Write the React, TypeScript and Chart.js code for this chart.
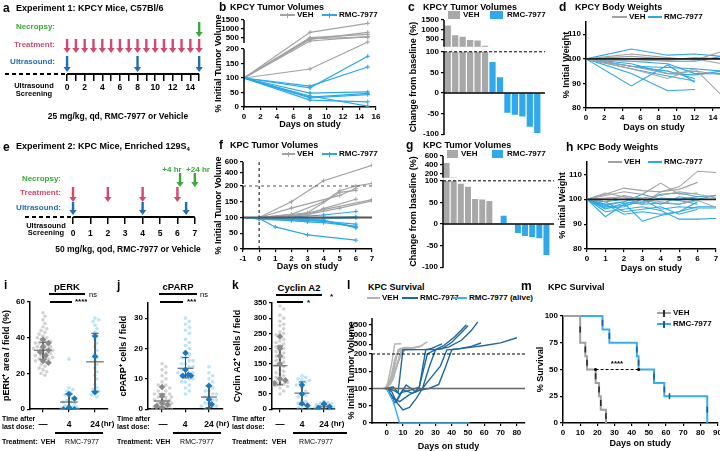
import React, { useEffect, useRef } from "react";
import { Chart, registerables, LinearScale } from "chart.js";

Chart.register(...registerables);
const FONT = "'Liberation Sans', Arial, Helvetica, sans-serif";
Chart.defaults.font.family = FONT;
Chart.defaults.font.size = 8;
(Chart.defaults.font as any).weight = "bold";
Chart.defaults.color = "#000";

// ---------------- DATA ----------------
// a: schedule experiment 1
const A_TICK_DAYS = [0, 1, 2, 3, 4, 5, 6, 7, 8, 9, 10, 11, 12, 13, 14, 15];
const A_TREAT_DAYS = [0, 1, 2, 3, 4, 5, 6, 7, 8, 9, 10, 11, 12, 13, 14, 15];
const A_US_DAYS = [0, 8, 15];
const A_NECROPSY_DAYS = [15];
// e: schedule experiment 2
const E_TICK_DAYS = [0, 1, 2, 3, 4, 5, 6, 7];
const E_TREAT_DAYS = [0, 2, 4, 6];
const E_US_DAYS = [0, 4, 6.5];
const E_NECROPSY_DAYS = [6.15, 7];

// b: KPCY tumour volumes
const B_DAYS = [0, 8, 15];
const B_VEH = [
  [100, 805, 1313],
  [100, 500, 690],
  [100, 409, 805],
  [100, 313, 558],
  [100, 450, 530],
  [100, 131, 256],
];
const B_RMC = [
  [100, 66, 175],
  [100, 72, 138],
  [100, 48, 52],
  [100, 34, 47],
  [100, 31, 43],
  [100, 24, 18],
  [100, 38, 3],
];
const B_YTICKS = [0, 50, 100, 150, 200, 500, 1000, 1500];
const B_XTICKS = [0, 2, 4, 6, 8, 10, 12, 14, 16];

// c: KPCY waterfall
const C_VEH = [1213, 705, 620, 458, 430, 156];
const C_RMC = [75, 38, -48, -53, -57, -82, -97];
const C_YTICKS = [-100, -50, 0, 50, 100, 500, 1000, 1500];

// d: KPCY body weights
const D_DAYS = [0, 5, 9, 12, 15];
const D_VEH = [
  [100, 101, 100, 100, 100],
  [100, 102, 100.5, 99.5, 103],
  [100, 96, 92, 96, 85],
  [100, 97, 94, 95, 93.5],
  [100, 99, 99.5, 100, 98],
  [100, 100, 99.5, 100.5, 100],
];
const D_RMC = [
  [100, 104, 101.5, 102, 101],
  [100, 89, 97.5, 90.5, null],
  [100, 94, 87, 87.5, null],
  [100, 96, 93, 91, null],
  [100, 97, 95, 92, null],
  [100, 98, 94, 93.5, 95],
  [100, 99, 98, 94, 94],
  [100, 100, 99, 99, 101],
  [100, 97, 96.5, 96, 95],
];
const D_XTICKS = [0, 2, 4, 6, 8, 10, 12, 14];
const W_YTICKS = [80, 90, 100, 110];

// f: KPC tumour volumes
const F_VEH = [
  [[-1, 100], [0, 100], [2, 150], [4, 260], [7, 540]],
  [[-1, 100], [0, 100], [2, 110], [4, 150], [5, 185], [6, 200], [7, 210]],
  [[-1, 100], [0, 100], [2, 130], [5, 170], [6, 193]],
  [[-1, 100], [0, 100], [3, 115], [5, 180], [6, 186]],
  [[-1, 100], [0, 100], [3, 108], [4, 128], [6, 158]],
  [[-1, 100], [0, 100], [2, 104], [4, 125], [7, 157]],
  [[-1, 100], [0, 100], [3, 110], [5, 130], [7, 153]],
];
const F_RMC = [
  [[-1, 100], [0, 97], [1, 70], [3, 45], [6, 28]],
  [[-1, 100], [0, 100], [2, 102], [4, 108], [6, 119]],
  [[-1, 100], [0, 98], [2, 98], [4, 99], [6, 102]],
  [[-1, 100], [0, 99], [2, 96], [4, 96], [6, 99]],
  [[-1, 100], [0, 96], [2, 92], [4, 88], [6, 79]],
  [[-1, 100], [0, 95], [2, 90], [3, 86], [4, 84], [6, 72]],
  [[-1, 100], [0, 97], [2, 94], [4, 90], [6, 70]],
  [[-1, 100], [0, 98], [3, 93], [4, 92], [6, 67]],
];
const F_YTICKS = [0, 50, 100, 150, 200, 400, 600];
const F_XTICKS = [-1, 0, 1, 2, 3, 4, 5, 6, 7];

// g: KPC waterfall
const G_VEH = [440, 110, 93, 86, 58, 57, 53];
const G_RMC = [2, 19, -1, -21, -28, -30, -33, -72];
const G_YTICKS = [-100, -50, 0, 50, 100, 200, 400, 600];

// h: KPC body weights
const H_DAYS = [0, 1, 2, 3, 4, 5, 6, 7];
const H_VEH = [
  [100, 102, 104.5, 103.5, 103, 105, 111.3, 110.8],
  [100, 101.5, 103, 102, 106.5, 102, 102.5, null],
  [100, 100.5, 101, 98, 103, 104, 106.8, null],
  [100, 99, 101.5, 100, 99, 98, 99.5, 96.8],
  [100, 102.5, 101, 100.5, 101.5, 103, 102, 100.5],
];
const H_RMC = [
  [100, 93, 98, 100, 98, 101, 100, 101.5],
  [100, 96, 98.5, 91.2, 93.5, 95, 97, 97],
  [100, 98, 99, 102, 100, 99.5, 98, null],
  [100, 97, 97.5, 99, 102, 102.5, 101, 101.5],
  [100, 95, 96, 97, 95.5, 92, 92, 92.3],
  [100, 99, 95, 96, 97, 94, 96, null],
  [100, 97.5, 99, 98, 98.5, 98, 100, null],
  [100, 96.5, 97, 100, 96, 97, 96.5, 96.5],
  [100, 98, 94, 95, 94, 95, 99, null],
  [100, 99, 100, 98.5, 100.5, 100, 101, null],
];
const H_XTICKS = [0, 1, 2, 3, 4, 5, 6, 7];

// i: pERK (VEH, 4 h, 24 h)
const I_VEH_FIELDS = [54, 52, 50, 48, 46, 45, 44, 43, 42, 41, 40, 40, 39, 38, 38, 37, 37, 36, 36, 35, 35, 34, 34, 34, 33, 33, 32, 32, 31, 31, 30, 30, 29, 29, 28, 28, 27, 27, 26, 25, 24, 23, 22, 21, 20, 19];
const I_4H_FIELDS = [28, 12, 11, 10, 9, 8, 7, 6, 5, 4, 4, 3, 2, 2, 1, 1, 0.5, 0, 0, 0];
const I_24H_FIELDS = [51, 50, 49, 47, 45, 43, 41, 39, 37, 35, 33, 31, 29, 27, 25, 23, 21, 19, 17, 14, 12, 11, 10, 9, 8, 7];
const I_VEH_MICE = [39, 37, 35, 33, 32, 30, 27, 26];
const I_4H_MICE = [8.5, 6, 1, 0, 0];
const I_24H_MICE = [41, 29.5, 9.5];
const I_MEAN = [33, 4, 26.5];
const I_LO = [28, 0, 10];
const I_HI = [37.5, 8.5, 42.5];
const I_YTICKS = [0, 20, 40, 60];

// j: cPARP
const J_VEH_FIELDS = [15, 14, 13, 12, 11, 10, 9, 8, 8, 7, 7, 6, 6, 5, 5, 5, 4, 4, 4, 3, 3, 3, 3, 2, 2, 2, 2, 1, 1, 1, 1, 1, 0.5, 0.5, 0, 0, 0, 0];
const J_4H_FIELDS = [30, 29, 28, 27, 26, 25, 23, 22, 21, 20, 19, 18, 17, 17, 16, 16, 15, 15, 14, 14, 13, 13, 12, 12, 12, 11, 11, 10, 10, 9, 9, 8, 7, 6, 5];
const J_24H_FIELDS = [14, 12, 11, 10, 9, 8, 7, 6, 6, 5, 5, 4, 4, 3, 3, 2, 2, 1, 1, 1, 0.5, 0];
const J_VEH_MICE = [7.3, 4.3, 2, 1.5, 1, 0.5];
const J_4H_MICE = [18.5, 13, 11.3, 11, 11];
const J_24H_MICE = [7.7, 3.2, 1.6];
const J_MEAN = [2.7, 13.5, 4];
const J_LO = [0.5, 10.3, 0.5];
const J_HI = [5, 17, 7.7];
const J_YTICKS = [0, 10, 20, 30];

// k: Cyclin A2
const K_VEH_FIELDS = [340, 330, 310, 300, 290, 280, 275, 265, 255, 250, 245, 240, 230, 225, 220, 215, 210, 205, 200, 195, 190, 185, 180, 175, 170, 165, 160, 155, 150, 145, 140, 130, 125, 120, 115, 110, 105, 100, 95, 90, 88, 85, 82, 80, 78, 75, 70, 60, 50];
const K_4H_FIELDS = [110, 105, 100, 97, 95, 90, 85, 80, 70, 60, 50, 45, 40, 30, 25, 20, 15, 10, 5, 3, 0];
const K_24H_FIELDS = [25, 22, 20, 18, 15, 13, 10, 8, 6, 4, 2, 0];
const K_VEH_MICE = [240, 200, 175, 150, 100, 95, 85];
const K_4H_MICE = [80, 50, 19, 12];
const K_24H_MICE = [18, 8, 4];
const K_MEAN = [143, 53, 10];
const K_LO = [80, 15, 3];
const K_HI = [208, 90, 16];
const K_YTICKS = [0, 50, 100, 150, 200, 250, 300, 350];

// l: KPC survival tumour volume traces
const L_VEH = [
  [[-2, 100], [0, 100], [3, 170], [5, 510], [9, 520]],
  [[-2, 100], [0, 105], [4, 140], [7, 215], [10, 250]],
  [[-1, 100], [2, 120], [5, 185], [8, 270], [12, 300]],
  [[-1, 100], [3, 135], [6, 200], [10, 320], [14, 330]],
  [[0, 100], [4, 128], [8, 195], [12, 255], [18, 330], [21, 390]],
  [[0, 100], [5, 150], [10, 230], [15, 300], [20, 360], [25, 620]],
  [[0, 100], [3, 118], [7, 175], [10, 225], [13, 280]],
  [[0, 100], [4, 132], [9, 210], [16, 305], [22, 430]],
];
const L_RMC = [
  [[0, 100], [3, 80], [7, 55], [10, 38], [14, 45], [18, 70], [22, 100], [26, 160], [30, 210], [38, 350], [46, 700], [52, 1200], [56, 1650]],
  [[0, 100], [4, 95], [7, 87], [10, 215], [20, 218], [30, 222], [34, 260], [40, 600], [46, 1100], [50, 1450]],
  [[0, 100], [4, 72], [8, 62], [14, 82], [20, 95], [26, 100], [32, 112], [36, 160], [40, 215], [50, 320], [60, 430], [70, 570], [80, 830]],
  [[0, 100], [5, 58], [9, 88], [15, 96], [20, 104], [25, 200], [30, 225], [35, 420], [42, 900], [49, 1500]],
  [[0, 100], [4, 105], [8, 82], [12, 110], [18, 90], [22, 100], [27, 130], [33, 165], [37, 210], [44, 260], [52, 390], [58, 560]],
  [[-1, 100], [3, 92], [6, 62], [10, 96], [16, 86], [20, 102], [24, 212], [28, 300], [34, 520]],
];
const L_ALIVE = [[[0, 100], [4, 62], [8, 0], [51, 0]]];
const L_YTICKS = [0, 50, 100, 150, 200, 500, 1000, 1500];
const L_XTICKS = [0, 10, 20, 30, 40, 50, 60, 70, 80];

// m: Kaplan-Meier
const M_VEH = [[0, 100], [10, 75], [13, 62.5], [14, 50], [19, 37.5], [21, 25], [22, 12.5], [25, 0]];
const M_RMC = [[0, 100], [23, 87.5], [27, 75], [43, 62.5], [44, 50], [53, 37.5], [59, 25], [84, 0]];
const M_RMC_CENSOR = [[62, 25]];
const M_MEDIAN_SPAN = [19, 44];
const M_YTICKS = [0, 25, 50, 75, 100];
const M_XTICKS = [0, 10, 20, 30, 40, 50, 60, 70, 80, 90];

// ---------------- STYLE ----------------
const GRAY_LINE = "#a2a2a2";
const BLUE_LINE = "#2aa8e8";
const GRAY_BAR = "#a8a8a8";
const BLUE_BAR = "#2fa9ec";
const DARK_BLUE = "#1d68a3";
const LIGHT_BLUE = "#3cb2f0";
const GREEN = "#38a93a";
const PINK = "#d4476e";
const BLUE_S = "#1f6db2";
const TICK_FONT = { size: 8, weight: "bold" as const };
const TITLE_FONT = { size: 9, weight: "bold" as const };

// ---------------- SCALE: broken axis ----------------
class BrokenScale extends (LinearScale as any) {
  static id = "broken";
  static defaults = (LinearScale as any).defaults;
  segDec(v: number) {
    const segs = (this as any).options.segs;
    for (let i = 0; i < segs.length; i++) {
      const s = segs[i];
      if (v <= s.v1 || i === segs.length - 1) {
        if (i > 0 && v < s.v0) {
          const p = segs[i - 1];
          return p.d1 + ((v - p.v1) / (s.v0 - p.v1)) * (s.d0 - p.d1);
        }
        return s.d0 + ((v - s.v0) / (s.v1 - s.v0)) * (s.d1 - s.d0);
      }
    }
    return 0;
  }
  getPixelForValue(v: any) {
    if (v === null || v === undefined || isNaN(v)) return NaN;
    return (this as any).getPixelForDecimal(this.segDec(v));
  }
  getValueForPixel(p: number) {
    const d = (this as any).getDecimalForPixel(p);
    const segs = (this as any).options.segs;
    for (const s of segs) {
      if (d <= s.d1) return s.v0 + ((d - s.d0) / (s.d1 - s.d0)) * (s.v1 - s.v0);
    }
    return segs[segs.length - 1].v1;
  }
  buildTicks() {
    return (this as any).options.tickVals.map((v: number) => ({ value: v }));
  }
}
Chart.register(BrokenScale as any);

const brokenAxisPlugin = {
  id: "brokenAxisLine",
  afterDraw(chart: any) {
    const y = chart.scales.y;
    if (!y || y.type !== "broken") return;
    const ctx = chart.ctx;
    const segs = y.options.segs;
    const x = y.right;
    ctx.save();
    ctx.strokeStyle = "#000";
    ctx.lineWidth = 1.5;
    for (const s of segs) {
      const p0 = y.getPixelForDecimal(s.d0);
      const p1 = y.getPixelForDecimal(s.d1);
      ctx.beginPath();
      ctx.moveTo(x, p0 + (s.d0 === 0 ? 0.75 : 0));
      ctx.lineTo(x, p1);
      ctx.stroke();
    }
    ctx.restore();
  },
};
Chart.register(brokenAxisPlugin as any);

// ---------------- HELPERS ----------------
type Box = [number, number, number, number];
type Spec = { box: Box; m: [number, number, number, number]; yW: number; xH: number; make: () => any };

function segsFromPx(box: Box, list: number[][]) {
  const t = box[1];
  const b = box[3];
  const H = b - t;
  return list.map(([v0, v1, p0, p1]) => ({ v0, v1, d0: (b - p0) / H, d1: (b - p1) / H }));
}

function linAxis(o: { min: number; max: number; ticks: number[]; title?: string; labels?: boolean; pad?: number; tl?: number }) {
  return {
    type: "linear",
    min: o.min,
    max: o.max,
    afterBuildTicks: (s: any) => {
      s.ticks = o.ticks.map((v) => ({ value: v }));
    },
    ticks: { autoSkip: false, maxRotation: 0, display: o.labels !== false, font: TICK_FONT, color: "#000", padding: o.pad ?? 2, callback: (v: any) => String(v) },
    grid: { drawOnChartArea: false, drawTicks: true, tickLength: o.tl ?? 3, color: "#000", lineWidth: 1.2 },
    border: { display: true, color: "#000", width: 1.5 },
    title: o.title ? { display: true, text: o.title, font: TITLE_FONT, color: "#000", padding: 0 } : { display: false },
  };
}

function brokenAxis(box: Box, list: number[][], ticks: number[], title: string) {
  return {
    type: "broken",
    min: list[0][0],
    max: list[list.length - 1][1],
    segs: segsFromPx(box, list),
    tickVals: ticks,
    ticks: { autoSkip: false, font: TICK_FONT, color: "#000", padding: 2, callback: (v: any) => String(v) },
    grid: { drawOnChartArea: false, drawTicks: true, tickLength: 3, color: "#000", lineWidth: 1.2 },
    border: { display: false },
    title: { display: true, text: title, font: TITLE_FONT, color: "#000", padding: 0 },
  };
}

function baseOpts(scales: any) {
  return {
    animation: false,
    responsive: false,
    maintainAspectRatio: false,
    events: [],
    plugins: { legend: { display: false }, tooltip: { enabled: false }, title: { display: false } },
    scales,
  };
}

const byDay = (days: number[], vals: (number | null)[]) => days.map((d, i) => ({ x: d, y: vals[i] }));
const fromPairs = (arr: number[][]) => arr.map(([x, y]) => ({ x, y }));

function lineDs(data: any[], color: string, o: any = {}) {
  return { data, showLine: true, borderColor: color, backgroundColor: color, borderWidth: 1.2, pointRadius: 0, spanGaps: false, ...o };
}
const crossPts = { pointStyle: "cross", pointRadius: 2.2, pointBorderWidth: 1 };

type RL = { y?: number; x?: number; from?: number; to?: number; color: string; width: number; dash?: number[]; ext?: number };
function refLines(lines: RL[], band = false) {
  return {
    id: "refLines",
    afterDatasetsDraw(chart: any) {
      const { ctx, chartArea: a, scales } = chart;
      const xs = scales.x;
      const ys = scales.y;
      ctx.save();
      if (band && ys.type === "broken") {
        const sg = ys.options.segs;
        ctx.fillStyle = "#fff";
        for (let i = 1; i < sg.length; i++) {
          const pLow = ys.getPixelForDecimal(sg[i - 1].d1);
          const pHigh = ys.getPixelForDecimal(sg[i].d0);
          ctx.fillRect(a.left + 1, pHigh, a.right - a.left + 12, pLow - pHigh);
        }
      }
      for (const L of lines) {
        ctx.beginPath();
        ctx.strokeStyle = L.color;
        ctx.lineWidth = L.width;
        ctx.setLineDash(L.dash || []);
        if (L.y !== undefined) {
          const py = ys.getPixelForValue(L.y);
          const x0 = L.from !== undefined ? xs.getPixelForValue(L.from) : a.left;
          const x1 = L.to !== undefined ? xs.getPixelForValue(L.to) : a.right + (L.ext || 0);
          ctx.moveTo(x0, py);
          ctx.lineTo(x1, py);
        } else if (L.x !== undefined) {
          const px = xs.getPixelForValue(L.x);
          ctx.moveTo(px, a.top);
          ctx.lineTo(px, a.bottom);
        }
        ctx.stroke();
      }
      ctx.restore();
    },
  };
}

type Arrow = { x: number; top: number; bot: number; color: string };
function arrowsPlugin(arrows: Arrow[]) {
  return {
    id: "arrows",
    afterDatasetsDraw(chart: any) {
      const { ctx, scales } = chart;
      const xs = scales.x;
      const ys = scales.y;
      ctx.save();
      for (const a of arrows) {
        const px = xs.getPixelForValue(a.x);
        const top = ys.getPixelForValue(a.top);
        const bot = ys.getPixelForValue(a.bot);
        const hh = 5;
        const hw = 3.6;
        ctx.strokeStyle = a.color;
        ctx.fillStyle = a.color;
        ctx.lineWidth = 2.4;
        ctx.beginPath();
        ctx.moveTo(px, top);
        ctx.lineTo(px, bot - hh + 1);
        ctx.stroke();
        ctx.beginPath();
        ctx.moveTo(px - hw, bot - hh);
        ctx.lineTo(px + hw, bot - hh);
        ctx.lineTo(px, bot);
        ctx.closePath();
        ctx.fill();
      }
      ctx.restore();
    },
  };
}

// beeswarm layout (deterministic): positions only, values come from the data arrays
function swarm(values: number[], cx: number, pxX: number, pxY: number, diam: number, maxOffPx: number) {
  const sorted = [...values].sort((a, b) => b - a);
  const placed: { x: number; y: number }[] = [];
  const out: { x: number; y: number }[] = [];
  for (const v of sorted) {
    const py = v * pxY;
    let off = 0;
    let bestD = -1;
    for (let n = 0; n < 80; n++) {
      const cand = n === 0 ? 0 : (n % 2 ? 1 : -1) * Math.ceil(n / 2) * diam * 0.5;
      if (Math.abs(cand) > maxOffPx) break;
      const minD = placed.reduce((m, p) => Math.min(m, Math.hypot(p.x - cand, p.y - py)), Infinity);
      if (minD >= diam) {
        off = cand;
        bestD = Infinity;
        break;
      }
      if (minD > bestD) {
        bestD = minD;
        off = cand;
      }
    }
    placed.push({ x: off, y: py });
    out.push({ x: cx + off / pxX, y: v });
  }
  return out;
}

function statPts(mean: number[], lo: number[], hi: number[], w: number, cap: number) {
  const pts: any[] = [];
  mean.forEach((m, i) => {
    pts.push({ x: i - w, y: m }, { x: i + w, y: m }, { x: i, y: null });
    pts.push({ x: i, y: hi[i] }, { x: i, y: lo[i] }, { x: i, y: null });
    pts.push({ x: i - cap, y: hi[i] }, { x: i + cap, y: hi[i] }, { x: i, y: null });
    pts.push({ x: i - cap, y: lo[i] }, { x: i + cap, y: lo[i] }, { x: i, y: null });
  });
  return pts;
}

// ---------------- SPECS ----------------
function schematicSpec(box: Box, xmin: number, xmax: number, ymax: number, tickDays: number[], labelFn: (v: number) => string, tl: number, pad: number, xH: number, arrows: Arrow[]): Spec {
  return {
    box,
    m: [0, 2, 10, xH],
    yW: 0,
    xH,
    make: () => ({
      type: "scatter",
      data: {
        datasets: [
          lineDs([{ x: tickDays[0], y: 0 }, { x: tickDays[tickDays.length - 1], y: 0 }], "#000", { borderWidth: 2, clip: false }),
          lineDs([{ x: xmin, y: 0 }, { x: tickDays[0], y: 0 }], "#000", { borderWidth: 2, borderDash: [4, 3], clip: false }),
        ],
      },
      options: baseOpts({
        x: {
          type: "linear",
          min: xmin,
          max: xmax,
          afterBuildTicks: (s: any) => {
            s.ticks = tickDays.map((v) => ({ value: v }));
          },
          ticks: { autoSkip: false, maxRotation: 0, font: { size: 8.5, weight: "bold" }, color: "#000", padding: pad, callback: (v: any) => labelFn(v) },
          grid: { drawOnChartArea: false, drawTicks: true, tickLength: tl, color: "#000", lineWidth: 1.5 },
          border: { display: false },
        },
        y: { display: false, min: 0, max: ymax },
      }),
      plugins: [arrowsPlugin(arrows)],
    }),
  };
}

const specA = schematicSpec(
  [5, 14, 204, 74], -7.05, 15.55, 60, A_TICK_DAYS,
  (v) => (v % 2 === 0 && v <= 14 ? String(v) : ""), 7, 2, 20,
  [
    ...A_NECROPSY_DAYS.map((d) => ({ x: d, top: 52, bot: 37, color: GREEN })),
    ...A_TREAT_DAYS.map((d) => ({ x: d, top: 35, bot: 21, color: PINK })),
    ...A_US_DAYS.map((d) => ({ x: d, top: 18, bot: 2, color: BLUE_S })),
  ]
);

const specE = schematicSpec(
  [25, 170, 199, 217], -2.76, 7.24, 47, E_TICK_DAYS,
  (v) => String(v), 7, 5, 24,
  [
    ...E_NECROPSY_DAYS.map((d) => ({ x: d, top: 44, bot: 30, color: GREEN })),
    ...E_TREAT_DAYS.map((d) => ({ x: d, top: 30, bot: 15, color: PINK })),
    ...E_US_DAYS.map((d) => ({ x: d, top: 15, bot: 2, color: BLUE_S })),
  ]
);

const boxB: Box = [244, 20, 376, 107];
const specB: Spec = {
  box: boxB, m: [31, 10, 12, 24], yW: 31, xH: 23,
  make: () => ({
    type: "scatter",
    data: {
      datasets: [
        ...B_RMC.map((v) => lineDs(byDay(B_DAYS, v), BLUE_LINE, crossPts)),
        ...B_VEH.map((v) => lineDs(byDay(B_DAYS, v), GRAY_LINE, crossPts)),
      ],
    },
    options: baseOpts({
      x: linAxis({ min: 0, max: 16, ticks: B_XTICKS, title: "Days on study" }),
      y: brokenAxis(boxB, [[0, 200, 107, 49], [200, 1500, 43, 20]], B_YTICKS, "% Initial Tumor Volume"),
    }),
  }),
};

function waterfallSpec(box: Box, yW: number, segList: number[][], ticks: number[], veh: number[], rmc: number[]): Spec {
  return {
    box, m: [yW, 10, 10, 6], yW, xH: 0,
    make: () => ({
      type: "bar",
      data: {
        labels: [...veh, ...rmc].map((_, i) => String(i)),
        datasets: [
          {
            data: [...veh, ...rmc],
            backgroundColor: [...veh.map(() => GRAY_BAR), ...rmc.map(() => BLUE_BAR)],
            borderWidth: 0,
            barPercentage: 0.84,
            categoryPercentage: 1,
          },
        ],
      },
      options: baseOpts({
        x: { display: false },
        y: brokenAxis(box, segList, ticks, "Change from baseline (%)"),
      }),
      plugins: [
        refLines(
          [
            { y: 0, color: "#000", width: 1.5, ext: 4 },
            { y: 100, color: "#000", width: 1, dash: [3, 2], ext: 4 },
          ],
          true
        ),
      ],
    }),
  };
}
const boxC: Box = [444, 20, 541, 135];
const specC = waterfallSpec(boxC, 36, [[-100, 100, 135, 52], [100, 1500, 47, 20]], C_YTICKS, C_VEH, C_RMC);
const boxG: Box = [443, 156, 550, 268];
const specG = waterfallSpec(boxG, 35, [[-100, 100, 268, 181], [100, 600, 178, 156]], G_YTICKS, G_VEH, G_RMC);

function weightSpec(box: Box, yW: number, days: number[], veh: (number | null)[][], rmc: (number | null)[][], xmax: number, xticks: number[]): Spec {
  return {
    box, m: [yW, 10, 10, 26], yW, xH: 25,
    make: () => ({
      type: "scatter",
      data: {
        datasets: [
          ...veh.map((v) => lineDs(byDay(days, v), GRAY_LINE, { borderWidth: 1.1 })),
          ...rmc.map((v) => lineDs(byDay(days, v), BLUE_LINE, { borderWidth: 1.1 })),
        ],
      },
      options: baseOpts({
        x: linAxis({ min: 0, max: xmax, ticks: xticks, title: "Days on study" }),
        y: linAxis({ min: 80, max: 115, ticks: W_YTICKS, title: "% Initial Weight" }),
      }),
      plugins: [refLines([{ y: 100, color: "#222", width: 1.8 }])],
    }),
  };
}
const specD = weightSpec([586, 22, 722, 108], 25, D_DAYS, D_VEH, D_RMC, 15, D_XTICKS);
const specH = weightSpec([587, 162, 716, 249], 30, H_DAYS, H_VEH, H_RMC, 7, H_XTICKS);

const boxF: Box = [243, 162, 372, 249];
const specF: Spec = {
  box: boxF, m: [30, 8, 12, 24], yW: 30, xH: 23,
  make: () => ({
    type: "scatter",
    data: {
      datasets: [
        ...F_VEH.map((v) => lineDs(fromPairs(v), GRAY_LINE, crossPts)),
        ...F_RMC.map((v) => lineDs(fromPairs(v), BLUE_LINE, crossPts)),
      ],
    },
    options: baseOpts({
      x: linAxis({ min: -1, max: 7, ticks: F_XTICKS, title: "Days on study" }),
      y: brokenAxis(boxF, [[0, 200, 249, 186], [200, 600, 184, 162]], F_YTICKS, "% Initial Tumor Volume"),
    }),
    plugins: [
      refLines([
        { x: 0, color: "#000", width: 1, dash: [3, 3] },
        { y: 200, color: "#555", width: 1, dash: [3, 3] },
        { y: 100, color: "#555", width: 2 },
      ]),
    ],
  }),
};

function dotSpec(box: Box, yW: number, xmin: number, xmax: number, ymax: number, yticks: number[], title: string,
  vehF: number[], h4F: number[], h24F: number[], vehM: number[], h4M: number[], h24M: number[],
  mean: number[], lo: number[], hi: number[]): Spec {
  const pxX = (box[2] - box[0]) / (xmax - xmin);
  const pxY = (box[3] - box[1]) / ymax;
  const D = 3.8;
  const MO = 10;
  return {
    box, m: [yW, 8, 6, 4], yW, xH: 4,
    make: () => ({
      type: "scatter",
      data: {
        datasets: [
          { data: swarm(vehM, 0, pxX, pxY, 5.5, 8), pointStyle: "rectRot", pointRadius: 3.3, backgroundColor: "#8a8a8a", borderWidth: 0 },
          { data: [...swarm(h4M, 1, pxX, pxY, 5.5, 8), ...swarm(h24M, 2, pxX, pxY, 5.5, 8)], pointStyle: "rectRot", pointRadius: 3.3, backgroundColor: "#1a78be", borderWidth: 0 },
          lineDs(statPts(mean, lo, hi, 0.34, 0.14), "#4a4a4a", { borderWidth: 1, clip: false }),
          { data: swarm(vehF, 0, pxX, pxY, D, MO), pointRadius: 1.8, backgroundColor: "rgba(165,165,165,0.5)", borderWidth: 0 },
          { data: [...swarm(h4F, 1, pxX, pxY, D, MO), ...swarm(h24F, 2, pxX, pxY, D, MO)], pointRadius: 1.8, backgroundColor: "rgba(120,200,240,0.5)", borderWidth: 0 },
        ],
      },
      options: baseOpts({
        x: linAxis({ min: xmin, max: xmax, ticks: [0, 1, 2], labels: false }),
        y: linAxis({ min: 0, max: ymax, ticks: yticks, title }),
      }),
    }),
  };
}
const specI = dotSpec([30, 302, 108, 412], 29, -0.5, 2.5, 60, I_YTICKS, "pERK⁺ area / field (%)",
  I_VEH_FIELDS, I_4H_FIELDS, I_24H_FIELDS, I_VEH_MICE, I_4H_MICE, I_24H_MICE, I_MEAN, I_LO, I_HI);
const specJ = dotSpec([148, 303, 223, 412], 30, -0.6, 2.6, 35, J_YTICKS, "cPARP⁺ cells / field",
  J_VEH_FIELDS, J_4H_FIELDS, J_24H_FIELDS, J_VEH_MICE, J_4H_MICE, J_24H_MICE, J_MEAN, J_LO, J_HI);
const specK = dotSpec([272, 303, 335, 412], 40, -0.36, 2.5, 350, K_YTICKS, "Cyclin A2⁺ cells / field",
  K_VEH_FIELDS, K_4H_FIELDS, K_24H_FIELDS, K_VEH_MICE, K_4H_MICE, K_24H_MICE, K_MEAN, K_LO, K_HI);

const boxL: Box = [372, 318, 525, 423];
const specL: Spec = {
  box: boxL, m: [26, 8, 10, 29], yW: 26, xH: 29,
  make: () => ({
    type: "scatter",
    data: {
      datasets: [
        ...L_ALIVE.map((v) => lineDs(fromPairs(v), LIGHT_BLUE, { borderWidth: 1.5, clip: 3 })),
        ...L_RMC.map((v) => lineDs(fromPairs(v), DARK_BLUE, { borderWidth: 1.4 })),
        ...L_VEH.map((v) => lineDs(fromPairs(v), "#b3b3b3", { borderWidth: 1.4 })),
      ],
    },
    options: baseOpts({
      x: linAxis({ min: -9, max: 85, ticks: L_XTICKS, title: "Days on study", pad: 2 }),
      y: brokenAxis(boxL, [[0, 200, 423, 354], [200, 1850, 350, 318]], L_YTICKS, "% Initial Tumor Volume"),
    }),
    plugins: [
      refLines([
        { y: 200, color: "#000", width: 1, dash: [3, 2] },
        { y: 100, color: "#666", width: 1.5 },
      ]),
    ],
  }),
};

function kmMarks(curve: number[][]) {
  const pts: { x: number; y: number }[] = [];
  for (let i = 1; i < curve.length; i++) pts.push({ x: curve[i][0], y: (curve[i - 1][1] + curve[i][1]) / 2 });
  return pts;
}
const specM: Spec = {
  box: [563, 316, 718, 423], m: [28, 8, 6, 26], yW: 28, xH: 26,
  make: () => ({
    type: "scatter",
    data: {
      datasets: [
        { data: M_MEDIAN_SPAN.map((x) => ({ x, y: 50 })), pointStyle: "circle", pointRadius: 1.6, backgroundColor: "#000", borderWidth: 0 },
        { data: kmMarks(M_VEH), pointStyle: "line", rotation: 90, pointRadius: 3, borderColor: "#2b2b2b", borderWidth: 1.6 },
        { data: [...kmMarks(M_RMC), ...fromPairs(M_RMC_CENSOR)], pointStyle: "line", rotation: 90, pointRadius: 3, borderColor: "#1a5e95", borderWidth: 1.6 },
        lineDs(fromPairs(M_VEH), "#a0a0a0", { borderWidth: 2, stepped: true, clip: 3 }),
        lineDs(fromPairs(M_RMC), "#35aef0", { borderWidth: 2, stepped: true, clip: 3 }),
      ],
    },
    options: baseOpts({
      x: linAxis({ min: 0, max: 90, ticks: M_XTICKS, title: "Days on study" }),
      y: linAxis({ min: 0, max: 100, ticks: M_YTICKS, title: "% Survival" }),
    }),
    plugins: [refLines([{ y: 50, from: M_MEDIAN_SPAN[0], to: M_MEDIAN_SPAN[1], color: "#000", width: 1, dash: [3, 2] }])],
  }),
};

const SPECS: Spec[] = [specA, specE, specB, specC, specD, specF, specG, specH, specI, specJ, specK, specL, specM];

// ---------------- COMPONENTS ----------------
function ChartBox({ spec }: { spec: Spec }) {
  const ref = useRef<HTMLCanvasElement | null>(null);
  const [l, t, r, b] = spec.box;
  const [ml, mt, mr, mb] = spec.m;
  const w = r - l + ml + mr;
  const h = b - t + mt + mb;
  useEffect(() => {
    const cfg = spec.make();
    cfg.options.layout = { padding: { left: ml - spec.yW, top: mt, right: mr, bottom: mb - spec.xH } };
    const sc = cfg.options.scales;
    if (spec.xH > 0) sc.x.afterFit = (s: any) => { s.height = spec.xH; };
    if (spec.yW > 0) sc.y.afterFit = (s: any) => { s.width = spec.yW; };
    const chart = new Chart(ref.current as HTMLCanvasElement, cfg);
    return () => chart.destroy();
  }, [spec]);
  return <canvas ref={ref} width={w} height={h} style={{ position: "absolute", left: l - ml, top: t - mt, width: w, height: h }} />;
}

function Txt({ x, y, s = 8, w = 700, c = "#000", a = "left", children }: any) {
  const tx = a === "center" ? "-50%" : a === "right" ? "-100%" : "0";
  return (
    <div style={{ position: "absolute", left: x, top: y, transform: `translate(${tx},-50%)`, fontSize: s, fontWeight: w, color: c, fontFamily: FONT, whiteSpace: "nowrap", lineHeight: 1 }}>
      {children}
    </div>
  );
}
function HL({ x0, x1, y, c = "#000", w = 1.5 }: any) {
  return <div style={{ position: "absolute", left: x0, top: y - w / 2, width: x1 - x0, height: w, background: c }} />;
}
function LegLine({ x0, x1, y, c, mark, mc }: any) {
  const mid = (x0 + x1) / 2;
  return (
    <>
      <HL x0={x0} x1={x1} y={y} c={c} w={2} />
      {mark === "cross" && <div style={{ position: "absolute", left: mid - 0.5, top: y - 2.5, width: 1, height: 5, background: c }} />}
      {mark === "tick" && <div style={{ position: "absolute", left: mid - 0.8, top: y - 3.5, width: 1.6, height: 7, background: mc }} />}
    </>
  );
}
function Sq({ x0, x1, y, c }: any) {
  return <div style={{ position: "absolute", left: x0, top: y - 4, width: x1 - x0, height: 8, background: c }} />;
}

function DoseRow({ left, c0, c1, c2, hr, ul0, ul1, veh, rmc }: any) {
  return (
    <>
      <Txt x={left} y={418} s={7}>Time after</Txt>
      <Txt x={left} y={426} s={7}>last dose:</Txt>
      <Txt x={c0} y={424} a="center" s={9}>—</Txt>
      <Txt x={c1} y={424} a="center" s={8.5}>4</Txt>
      <Txt x={c2} y={424} a="center" s={8.5}>24</Txt>
      <Txt x={hr} y={424} s={8}>(hr)</Txt>
      <HL x0={ul0} x1={ul1} y={433} w={1.2} />
      <Txt x={left} y={441} s={7}>Treatment:</Txt>
      <Txt x={veh} y={441} a="center" s={7}>VEH</Txt>
      <Txt x={rmc} y={441} a="center" s={7} w={400}>RMC-7977</Txt>
    </>
  );
}

function Labels() {
  return (
    <>
      {/* a */}
      <Txt x={3} y={8} s={12}>a</Txt>
      <Txt x={16} y={8} s={9}>Experiment 1: KPCY Mice, C57Bl/6</Txt>
      <Txt x={55} y={27} a="right" c={GREEN}>Necropsy:</Txt>
      <Txt x={55} y={45} a="right" c={PINK}>Treatment:</Txt>
      <Txt x={55} y={62} a="right" c={BLUE_S}>Ultrasound:</Txt>
      <Txt x={34} y={86} a="center" s={7.5}>Ultrasound</Txt>
      <Txt x={34} y={94} a="center" s={7.5}>Screening</Txt>
      <Txt x={118} y={116} a="center" s={8.5}>25 mg/kg, qd, RMC-7977 or Vehicle</Txt>
      {/* e */}
      <Txt x={3} y={147} s={12}>e</Txt>
      <Txt x={16} y={147} s={9}>Experiment 2: KPC Mice, Enriched 129S<sub style={{ fontSize: 6 }}>4</sub></Txt>
      <Txt x={172} y={170} a="center" c={GREEN}>+4 hr</Txt>
      <Txt x={198} y={170} a="center" c={GREEN}>+24 hr</Txt>
      <Txt x={61} y={179} a="right" c={GREEN}>Necropsy:</Txt>
      <Txt x={61} y={193} a="right" c={PINK}>Treatment:</Txt>
      <Txt x={61} y={208} a="right" c={BLUE_S}>Ultrasound:</Txt>
      <Txt x={46} y={226} a="center" s={7.5}>Ultrasound</Txt>
      <Txt x={46} y={233} a="center" s={7.5}>Screening</Txt>
      <Txt x={128} y={249} a="center" s={8.5}>50 mg/kg, qod, RMC-7977 or Vehicle</Txt>
      {/* b */}
      <Txt x={219} y={7} s={12}>b</Txt>
      <Txt x={230} y={7} s={9}>KPCY Tumor Volumes</Txt>
      <LegLine x0={280} x1={295} y={15} c={GRAY_LINE} mark="cross" />
      <Txt x={297} y={15}>VEH</Txt>
      <LegLine x0={322} x1={337} y={15} c={BLUE_LINE} mark="cross" />
      <Txt x={339} y={15}>RMC-7977</Txt>
      {/* c */}
      <Txt x={408} y={7} s={12}>c</Txt>
      <Txt x={423} y={7} s={9}>KPCY Tumor Volumes</Txt>
      <Sq x0={448} x1={460} y={15} c={GRAY_BAR} />
      <Txt x={463} y={15}>VEH</Txt>
      <Sq x0={490} x1={503} y={15} c={BLUE_BAR} />
      <Txt x={507} y={15}>RMC-7977</Txt>
      {/* d */}
      <Txt x={559} y={7} s={12}>d</Txt>
      <Txt x={575} y={7} s={9}>KPCY Body Weights</Txt>
      <LegLine x0={612} x1={627} y={17} c={GRAY_LINE} />
      <Txt x={629} y={17}>VEH</Txt>
      <LegLine x0={648} x1={662} y={17} c={BLUE_LINE} />
      <Txt x={664} y={17}>RMC-7977</Txt>
      {/* f */}
      <Txt x={219} y={145} s={12}>f</Txt>
      <Txt x={230} y={145} s={9}>KPC Tumor Volumes</Txt>
      <LegLine x0={282} x1={295} y={154} c={GRAY_LINE} mark="cross" />
      <Txt x={297} y={154}>VEH</Txt>
      <LegLine x0={322} x1={337} y={154} c={BLUE_LINE} mark="cross" />
      <Txt x={339} y={154}>RMC-7977</Txt>
      {/* g */}
      <Txt x={406} y={145} s={12}>g</Txt>
      <Txt x={423} y={145} s={9}>KPC Tumor Volumes</Txt>
      <Sq x0={447} x1={458} y={154} c={GRAY_BAR} />
      <Txt x={461} y={154}>VEH</Txt>
      <Sq x0={492} x1={503} y={154} c={BLUE_BAR} />
      <Txt x={507} y={154}>RMC-7977</Txt>
      {/* h */}
      <Txt x={566} y={147} s={12}>h</Txt>
      <Txt x={577} y={147} s={9}>KPC Body Weights</Txt>
      <LegLine x0={608} x1={622} y={162} c={GRAY_LINE} />
      <Txt x={624} y={162}>VEH</Txt>
      <LegLine x0={648} x1={662} y={162} c={BLUE_LINE} />
      <Txt x={664} y={162}>RMC-7977</Txt>
      {/* i */}
      <Txt x={4} y={285} s={12}>i</Txt>
      <Txt x={67} y={287} a="center" s={9.5}>pERK</Txt>
      <HL x0={49} x1={85} y={294} />
      <Txt x={89} y={295} s={7.5} w={400}>ns</Txt>
      <HL x0={50} x1={72} y={302} />
      <Txt x={75} y={302}>****</Txt>
      <DoseRow left={2} c0={43} c1={69} c2={95} hr={101} ul0={55} ul1={103} veh={48} rmc={82} />
      {/* j */}
      <Txt x={117} y={285} s={12}>j</Txt>
      <Txt x={178} y={287} a="center" s={9.5}>cPARP</Txt>
      <HL x0={159} x1={197} y={294} />
      <Txt x={200} y={295} s={7.5} w={400}>ns</Txt>
      <HL x0={160} x1={183} y={302} />
      <Txt x={187} y={302}>***</Txt>
      <DoseRow left={117} c0={163} c1={185} c2={209} hr={216} ul0={173} ul1={221} veh={163} rmc={197} />
      {/* k */}
      <Txt x={232} y={285} s={12}>k</Txt>
      <Txt x={299} y={288} a="center" s={9.5}>Cyclin A2</Txt>
      <HL x0={276} x1={322} y={295} />
      <Txt x={330} y={297} s={8}>*</Txt>
      <HL x0={277} x1={303} y={302} />
      <Txt x={307} y={303} s={8}>*</Txt>
      <DoseRow left={232} c0={280} c1={302} c2={324} hr={331} ul0={293} ul1={347} veh={279} rmc={316} />
      {/* l */}
      <Txt x={347} y={285} s={12}>l</Txt>
      <Txt x={368} y={287} s={9}>KPC Survival</Txt>
      <LegLine x0={367} x1={380} y={298} c="#b3b3b3" />
      <Txt x={382} y={298}>VEH</Txt>
      <LegLine x0={402} x1={418} y={298} c={DARK_BLUE} />
      <Txt x={420} y={298}>RMC-7977</Txt>
      <LegLine x0={453} x1={467} y={298} c={LIGHT_BLUE} />
      <Txt x={469} y={298}>RMC-7977 (alive)</Txt>
      {/* m */}
      <Txt x={521} y={286} s={12}>m</Txt>
      <Txt x={548} y={287} s={9}>KPC Survival</Txt>
      <LegLine x0={657} x1={671} y={313} c="#a0a0a0" mark="tick" mc="#2b2b2b" />
      <Txt x={673} y={313}>VEH</Txt>
      <LegLine x0={657} x1={671} y={324} c="#35aef0" mark="tick" mc="#1a5e95" />
      <Txt x={673} y={324}>RMC-7977</Txt>
      <Txt x={617} y={364} a="center" s={8}>****</Txt>
    </>
  );
}

export default function App() {
  return (
    <div style={{ position: "absolute", left: 0, top: 0, width: 720, height: 451, overflow: "hidden", background: "#fff", fontFamily: FONT }}>
      {SPECS.map((s, i) => (
        <ChartBox key={i} spec={s} />
      ))}
      <Labels />
    </div>
  );
}
